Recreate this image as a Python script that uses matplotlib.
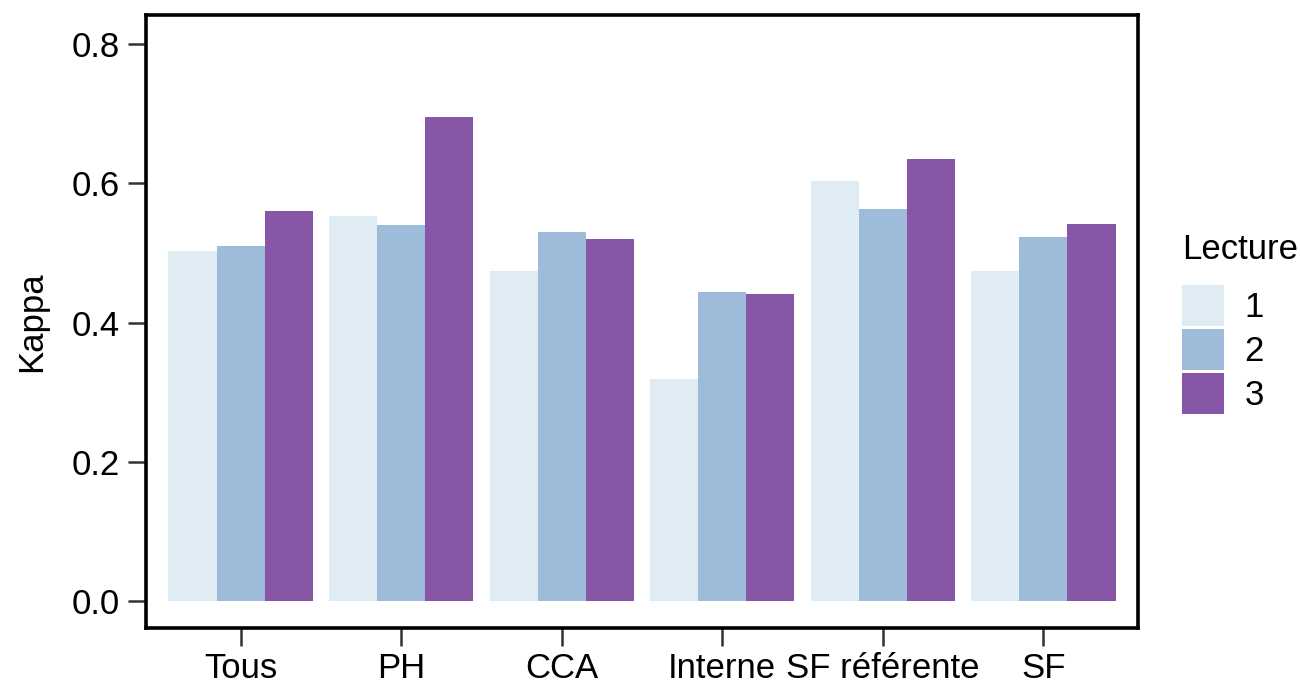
import matplotlib
matplotlib.use("Agg")
import matplotlib.pyplot as plt
import numpy as np

plt.rcParams["font.family"] = ["Liberation Sans", "DejaVu Sans"]

groups = ["Tous", "PH", "CCA", "Interne", "SF référente", "SF"]
lectures = ["1", "2", "3"]
kappa_1 = [0.503, 0.553, 0.474, 0.319, 0.604, 0.474]
kappa_2 = [0.510, 0.540, 0.530, 0.444, 0.563, 0.523]
kappa_3 = [0.560, 0.696, 0.520, 0.441, 0.635, 0.542]
colors = ["#E0ECF4", "#9EBCDA", "#8856A7"]

fig = plt.figure(figsize=(13, 6.82), dpi=100)
ax = fig.add_axes([146 / 1300, 1 - 628 / 682, (1138 - 146) / 1300, (628 - 15) / 682])

x = np.arange(len(groups))
w = 0.3
for i, vals in enumerate([kappa_1, kappa_2, kappa_3]):
    ax.bar(x + (i - 1) * w, vals, width=w, color=colors[i], label=lectures[i], linewidth=0)

ax.set_xlim(-0.59, 5.59)
ax.set_ylim(-0.039, 0.842)
ax.set_xticks(x)
ax.set_xticklabels(groups)
ax.set_yticks([0.0, 0.2, 0.4, 0.6, 0.8])
ax.set_yticklabels(["0.0", "0.2", "0.4", "0.6", "0.8"])
ax.tick_params(axis="both", length=13, width=1.8, color="#333333", labelsize=25, labelcolor="black")
ax.tick_params(axis="y", pad=6)
ax.tick_params(axis="x", pad=4)
for s in ax.spines.values():
    s.set_linewidth(2.6)
    s.set_color("black")
ax.set_ylabel("Kappa", fontsize=25, labelpad=17)

leg = fig.legend(loc="upper left", bbox_to_anchor=(1182 / 1300, 1 - 233 / 682), frameon=False,
                 fontsize=25, title="Lecture", title_fontsize=25, handlelength=1.2, handleheight=1.42,
                 labelspacing=0.1, handletextpad=0.6, borderpad=0, borderaxespad=0)
leg._legend_box.align = "left"
leg._legend_box.sep = 14

fig.savefig("out.png", dpi=100)
